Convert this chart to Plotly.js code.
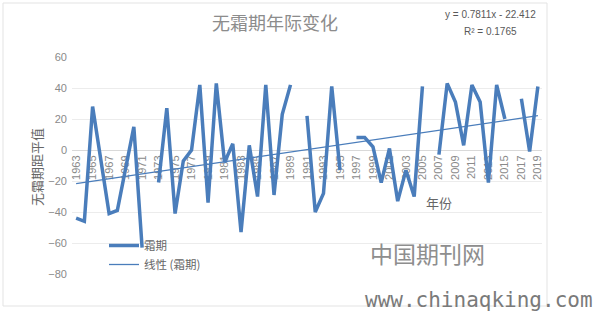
<!DOCTYPE html>
<html>
<head>
<meta charset="utf-8">
<script src="https://cdn.plot.ly/plotly-3.0.1.min.js"></script>
<style>
  html, body { margin: 0; padding: 0; background: #ffffff; }
  #chart { width: 593px; height: 311px; }
</style>
</head>
<body>
<div id="chart"></div>
<script>
// Years on the category axis
const years = [
  1963, 1964, 1965, 1966, 1967, 1968, 1969, 1970, 1971, 1972,
  1973, 1974, 1975, 1976, 1977, 1978, 1979, 1980, 1981, 1982,
  1983, 1984, 1985, 1986, 1987, 1988, 1989, 1990, 1991, 1992,
  1993, 1994, 1995, 1996, 1997, 1998, 1999, 2000, 2001, 2002,
  2003, 2004, 2005, 2006, 2007, 2008, 2009, 2010, 2011, 2012,
  2013, 2014, 2015, 2016, 2017, 2018, 2019
];

// Frost-free period anomaly (days); null = missing year
const frostFree = [
  -44, -46, 28, -7, -41, -39, -12, 15, -63, null,
  -21, 27, -41, -7, 0, 42, -34, 43, -8, 4,
  -53, 3, -30, 42, -29, 23, 42, null, 22, -40,
  -28, 41, -13, null, 8, 8, 2, -21, 1, -33,
  -13, -30, 41, null, -3, 43, 31, 3, 42, 31,
  -21, 42, 20, null, 33, -1, 41
];

// Labelled odd years on the horizontal axis
const tickYears = [
  1963, 1965, 1967, 1969, 1971, 1973, 1975, 1977, 1979, 1981,
  1983, 1985, 1987, 1989, 1991, 1993, 1995, 1997, 1999, 2001,
  2003, 2005, 2007, 2009, 2011, 2013, 2015, 2017, 2019
];

// Linear trend, x counted as 1..n along the categories
const trendSlope = 0.7811;
const trendIntercept = -22.412;
const trendR2 = 0.1765;
const trendY = years.map((_, i) => trendSlope * (i + 1) + trendIntercept);

const seriesName = '霜期';
const trendName = '线性 (霜期)';

const blue = '#4a7dbb';
const grid = '#ececec';
const tickGray = '#8a8a8a';
const textGray = '#666666';
const cjk = '"Noto Sans CJK SC", "Liberation Sans", sans-serif';
const latin = '"Liberation Sans", Arial, sans-serif';

// plot-area geometry (px) used to place free text
const W = 593, H = 311;
const L = 72, R = 51, T = 57, B = 37;
const pw = W - L - R, ph = H - T - B;
const px = x => (x - L) / pw;
const py = y => (H - B - y) / ph;

const yMin = -80, yMax = 60;

const traces = [
  {
    x: years, y: frostFree, name: seriesName, type: 'scatter', mode: 'lines',
    connectgaps: false,
    line: { color: blue, width: 3.5 }
  },
  {
    x: years, y: trendY, name: trendName, type: 'scatter', mode: 'lines',
    line: { color: blue, width: 1.3 }
  }
];

const layout = {
  width: W, height: H,
  margin: { l: L, r: R, t: T, b: B },
  paper_bgcolor: '#ffffff',
  plot_bgcolor: '#ffffff',
  font: { family: latin, color: tickGray, size: 11 },
  title: {
    text: '无霜期年际变化',
    font: { family: cjk, size: 18, color: '#8c8c8c' },
    x: 275 / W, xanchor: 'center',
    y: 1 - 24 / H, yanchor: 'middle'
  },
  xaxis: {
    range: [years[0] - 0.5, years[years.length - 1] + 0.5],
    tickmode: 'array', tickvals: tickYears, ticktext: tickYears.map(String),
    tickangle: -90,
    tickfont: { family: latin, size: 11, color: tickGray },
    showgrid: false, zeroline: false,
    showline: true, linecolor: '#d9d9d9', linewidth: 1,
    ticks: '',
    anchor: 'free',
    position: (0 - yMin) / (yMax - yMin),
    layer: 'below traces',
    fixedrange: true
  },
  yaxis: {
    range: [yMin, yMax], dtick: 20, tick0: 0,
    tickfont: { family: latin, size: 11, color: tickGray },
    showgrid: true, gridcolor: grid, gridwidth: 1,
    zeroline: true, zerolinecolor: grid, zerolinewidth: 1,
    showline: false, ticks: '',
    ticklabelstandoff: 4,
    fixedrange: true
  },
  showlegend: true,
  legend: {
    x: px(104), y: py(231), xanchor: 'left', yanchor: 'top',
    bgcolor: 'rgba(0,0,0,0)',
    font: { family: cjk, size: 11.5, color: textGray },
    tracegroupgap: 0
  },
  shapes: [
    {
      type: 'rect', xref: 'paper', yref: 'paper',
      x0: px(3), x1: px(547), y0: py(306), y1: py(3),
      line: { color: '#e3e3e3', width: 1 }, layer: 'below'
    }
  ],
  annotations: [
    {
      text: 'y = ' + trendSlope + 'x - ' + Math.abs(trendIntercept),
      xref: 'paper', yref: 'paper', x: px(490), y: py(15),
      xanchor: 'center', yanchor: 'middle', showarrow: false,
      font: { family: latin, size: 10, color: '#595959' }
    },
    {
      text: 'R² = ' + trendR2,
      xref: 'paper', yref: 'paper', x: px(490), y: py(31),
      xanchor: 'center', yanchor: 'middle', showarrow: false,
      font: { family: latin, size: 10, color: '#595959' }
    },
    {
      text: '无霜期距平值',
      xref: 'paper', yref: 'paper', x: px(36), y: py(167),
      xanchor: 'center', yanchor: 'middle', showarrow: false, textangle: -90,
      font: { family: cjk, size: 13, color: textGray }
    },
    {
      text: '年份',
      xref: 'paper', yref: 'paper', x: px(439), y: py(202),
      xanchor: 'center', yanchor: 'middle', showarrow: false,
      font: { family: cjk, size: 13, color: textGray }
    },
    {
      text: '中国期刊网',
      xref: 'paper', yref: 'paper', x: px(427), y: py(253),
      xanchor: 'center', yanchor: 'middle', showarrow: false,
      font: { family: cjk, size: 23, color: '#8e8e8e' }
    },
    {
      text: 'www.chinaqking.com',
      xref: 'paper', yref: 'paper', x: px(363), y: py(300),
      xanchor: 'left', yanchor: 'middle', showarrow: false,
      font: { family: '"DejaVu Sans Mono", "Liberation Mono", monospace', size: 21, color: '#7a7a7a' }
    }
  ]
};

Plotly.newPlot('chart', traces, layout, { staticPlot: true, displayModeBar: false });
</script>
</body>
</html>
